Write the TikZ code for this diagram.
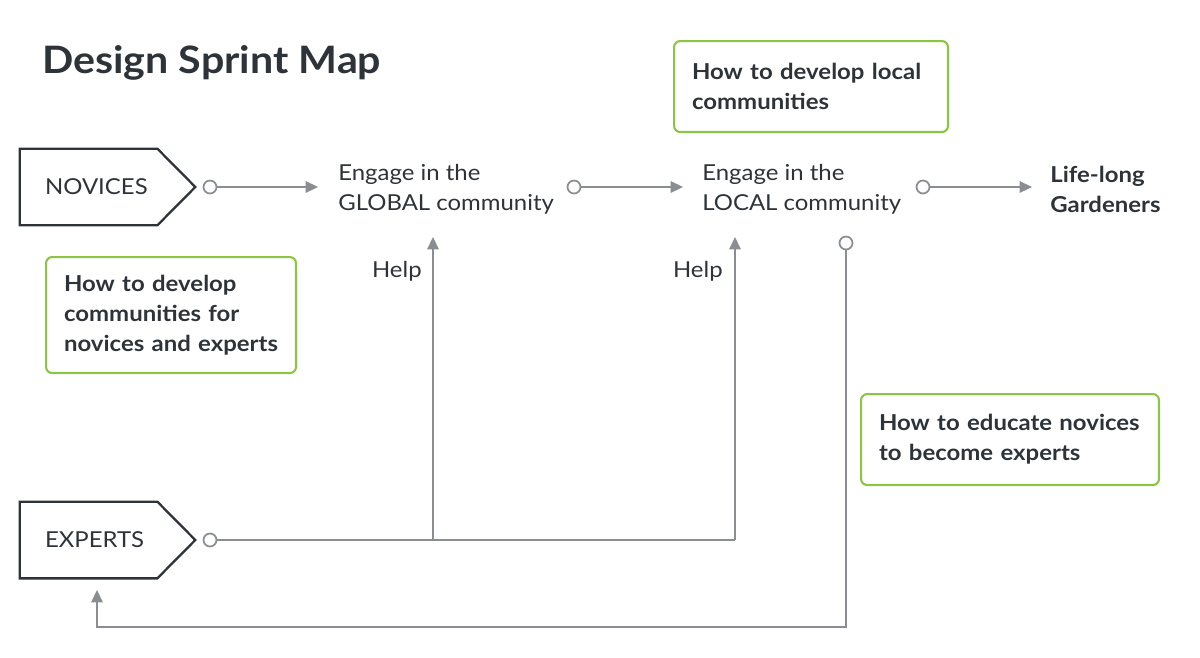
\documentclass[tikz,border=0pt]{standalone}
\usepackage{fontspec}
\setmainfont{Lato}[FakeStretch=1.09]
\usetikzlibrary{arrows.meta,positioning,calc}
\definecolor{dsdark}{RGB}{45,51,56}
\definecolor{dsgray}{RGB}{138,141,145}
\definecolor{dsgreen}{RGB}{141,196,68}
\tikzset{
  actor/.style={rectangle, minimum width=3.5cm, minimum height=1.52cm, text width=2.5cm,
                inner xsep=0.5cm, align=left, font=\fontsize{12.5}{17}\selectfont, text=dsdark},
  actorline/.style={draw=dsdark, line width=1.3pt, line join=miter},
  gbox/.style={draw=dsgreen, line width=1.2pt, rounded corners=3.5pt, anchor=north west,
               font=\fontsize{12.5}{17}\selectfont\bfseries, text=dsdark, align=left,
               inner xsep=0.36cm, inner ysep=0pt, minimum height=#1},
  stage/.style={font=\fontsize{12.5}{17}\selectfont, text=dsdark, align=left,
                anchor=west, inner sep=0pt},
  port/.style={circle, draw=dsgray, line width=1pt, fill=white,
               minimum size=0.26cm, inner sep=0pt},
  link/.style={draw=dsgray, line width=1pt},
  arr/.style={link, -{Triangle[length=7pt,width=6.5pt]}},
}
\begin{document}
\begin{tikzpicture}[x=0.02cm, y=-0.02cm]
\useasboundingbox (0,0) rectangle (1200,657);

% title
\node[anchor=base west, inner sep=0pt, text=dsdark,
      font=\fontsize{21.5}{25}\selectfont\bfseries] (title) at (42,73) {Design Sprint Map};

% actors
\node[actor] (novices) at (107.5,187) {NOVICES};
\node[actor] (experts) at (107.5,540) {EXPERTS};
\foreach \a in {novices,experts}
  \draw[actorline] (\a.north west) -- ([xshift=-0.76cm]\a.north east) -- (\a.east)
    -- ([xshift=-0.76cm]\a.south east) -- (\a.south west) -- cycle;

% stages
\node[stage] (glob) at (338,189) {Engage in the\\GLOBAL community};
\node[stage] (loc) at (702,189) {Engage in the\\LOCAL community};
\node[stage, font=\fontsize{12.5}{17}\selectfont\bfseries] (life) at (1050,189) {Life-long\\Gardeners};

% questions
\node[gbox=1.82cm, text width=4.76cm] (q1) at (673,40) {How to develop local\\communities};
\node[gbox=2.32cm, text width=4.28cm] (q2) at (45,256) {How to develop\\communities for\\novices and experts};
\node[gbox=1.82cm, text width=5.24cm] (q3) at (860,393) {How to educate novices\\to become experts};

% ports
\node[port] (pn) at (210,187) {};
\node[port] (pg) at (574,187) {};
\node[port] (pl) at (923,187) {};
\node[port] (pe) at (210,540) {};
\node[port] (pd) at (846,243) {};

% help labels
\node[stage, anchor=east] (help1) at (422,271) {Help};
\node[stage, anchor=east] (help2) at (723,271) {Help};

% flow
\draw[arr, shorten >=0.4cm] (pn) -- (pn -| glob.west);
\draw[arr, shorten >=0.38cm] (pg) -- (pg -| loc.west);
\draw[arr, shorten >=0.36cm] (pl) -- (pl -| life.west);

% experts help
\coordinate (branch) at (433,540);
\coordinate (join) at (735,540);
\coordinate (up1) at (433,237);
\coordinate (up2) at (735,237);
\draw[link] (pe) -- (join);
\draw[arr] (branch) -- (up1);
\draw[arr] (join) -- (up2);

% back to experts
\coordinate (loop) at (97,627);
\coordinate (ret) at (97,590);
\draw[arr] (pd) |- (loop) -- (ret);
\end{tikzpicture}
\end{document}
